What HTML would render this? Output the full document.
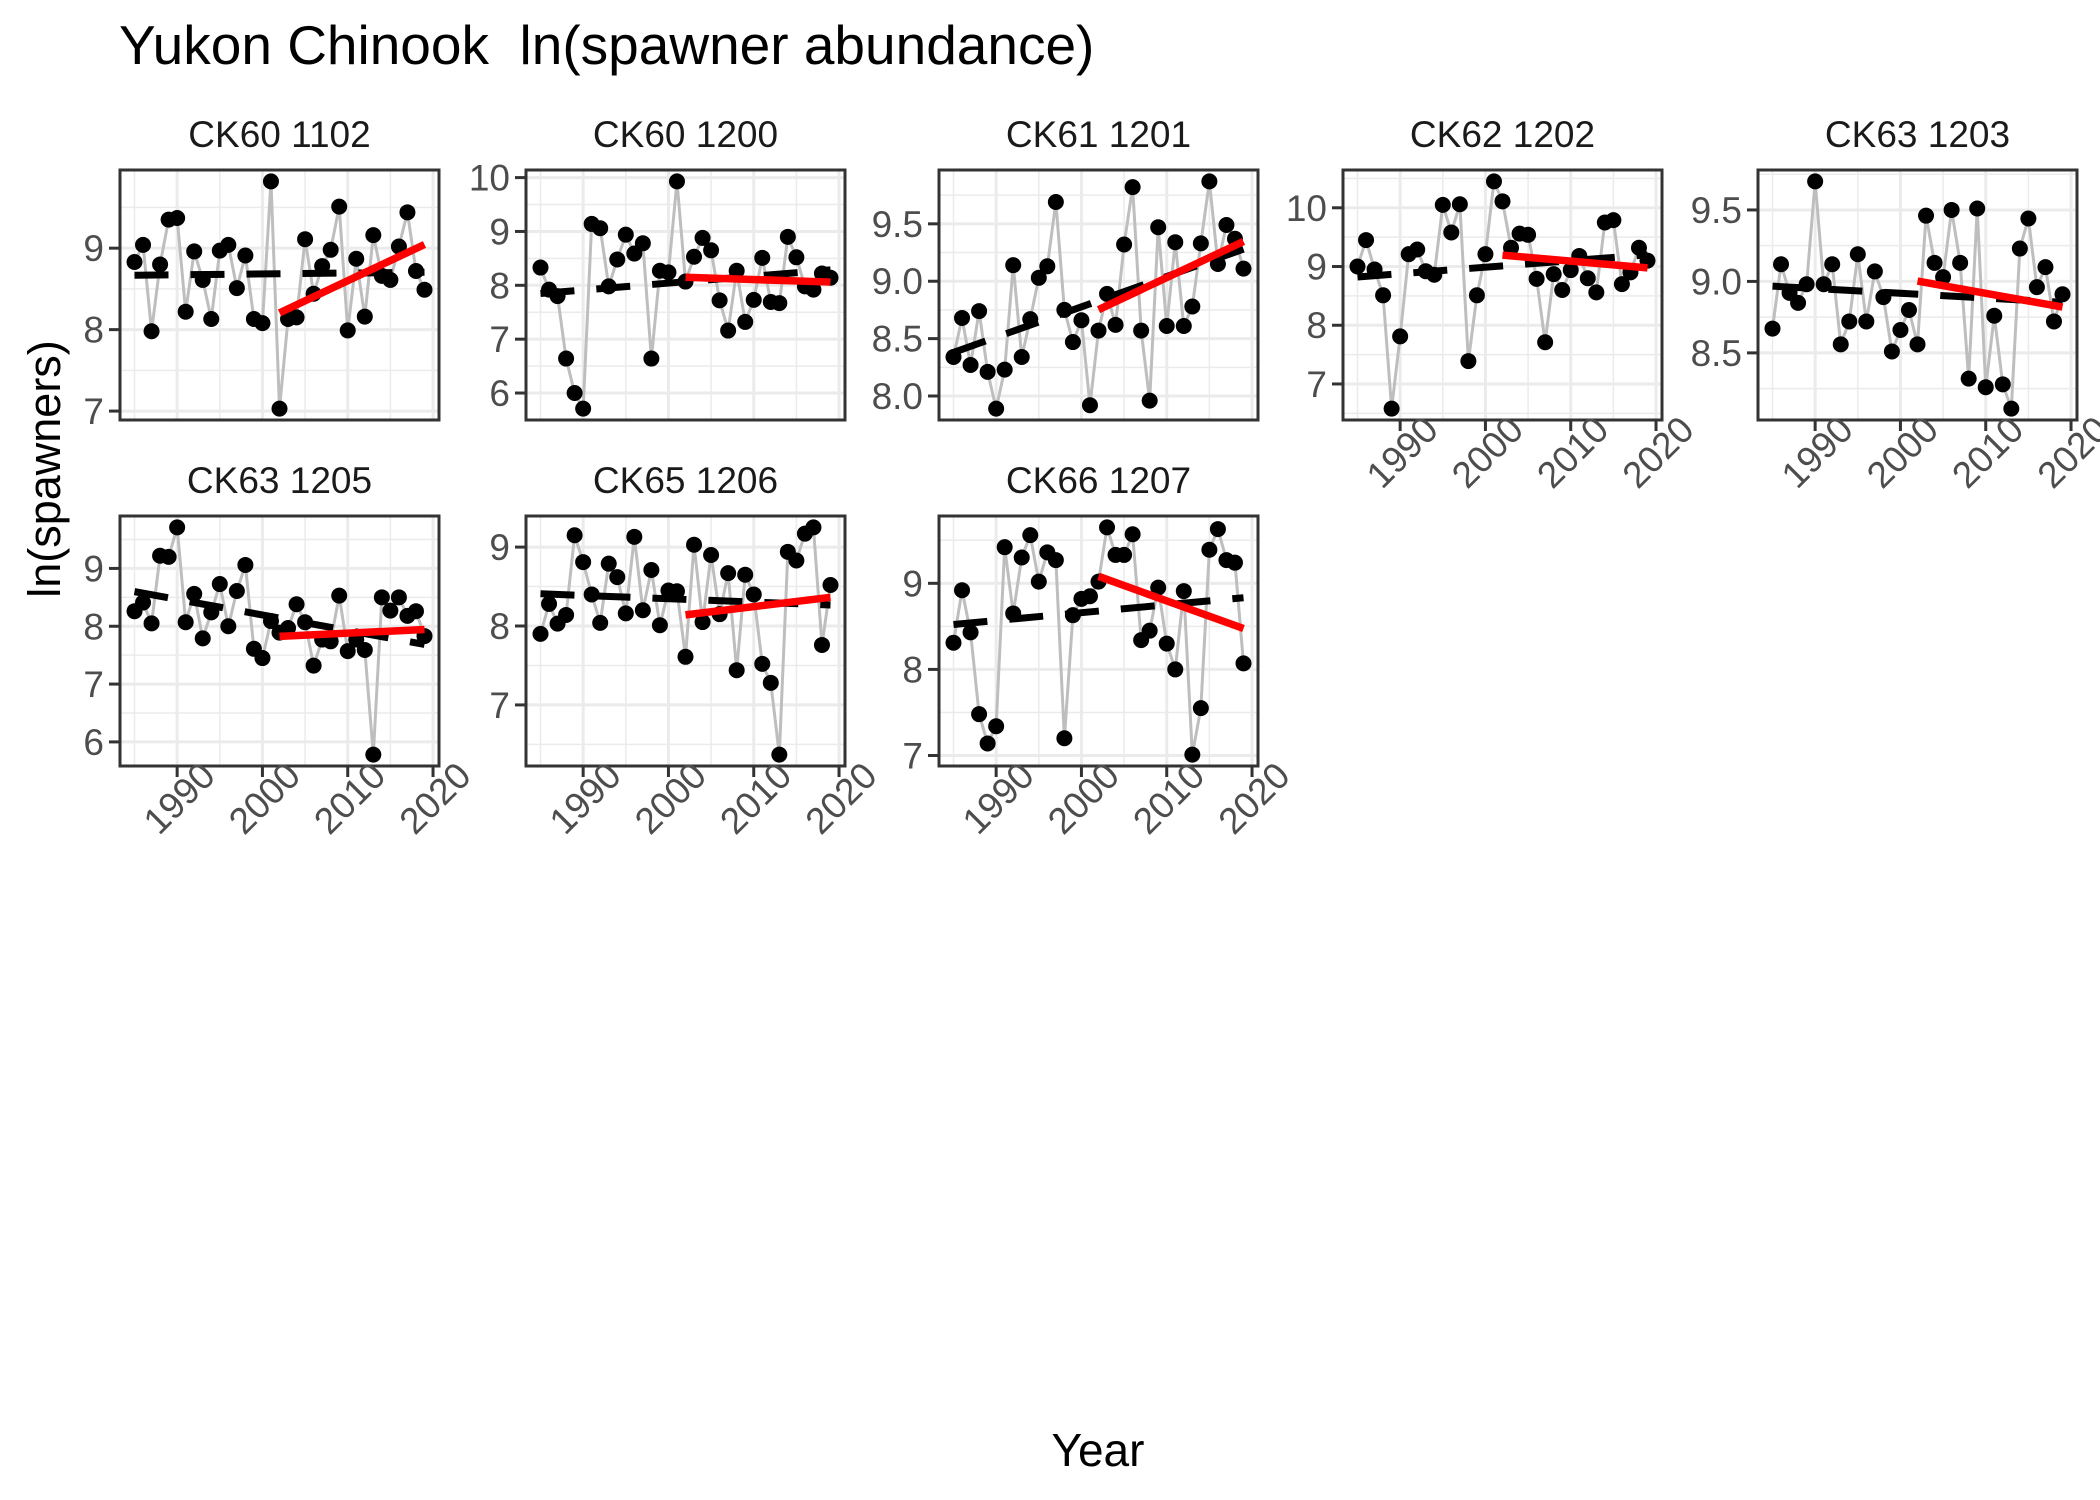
<!DOCTYPE html>
<html><head><meta charset="utf-8"><style>
html,body{margin:0;padding:0;background:#fff;}
svg{display:block;font-family:"Liberation Sans",Arial,sans-serif;}
</style></head><body>
<svg id="chart" width="2100" height="1500" viewBox="0 0 2100 1500" xmlns="http://www.w3.org/2000/svg">
<text x="119" y="64" font-size="55" fill="#000" style="white-space:pre" xml:space="preserve">Yukon Chinook  ln(spawner abundance)</text>
<text x="1098" y="1466" font-size="46" text-anchor="middle" fill="#000">Year</text>
<text transform="translate(60,469) rotate(-90)" font-size="45" text-anchor="middle" fill="#000">ln(spawners)</text>
<g id="panels"></g>
</svg>
<script>
const years = [];
for (let y = 1985; y <= 2019; y++) years.push(y);
const panelNames = ["CK60 1102","CK60 1200","CK61 1201","CK62 1202","CK63 1203","CK63 1205","CK65 1206","CK66 1207"];
const ck60_1102 = [8.83,9.04,7.98,8.80,9.35,9.37,8.22,8.96,8.61,8.13,8.97,9.04,8.51,8.91,8.13,8.08,9.82,7.03,8.13,8.15,9.11,8.44,8.78,8.98,9.51,7.99,8.87,8.16,9.16,8.66,8.61,9.02,9.44,8.72,8.49];
const ck60_1200 = [8.33,7.92,7.80,6.64,6.00,5.71,9.14,9.06,7.98,8.48,8.94,8.59,8.78,6.64,8.27,8.24,9.93,8.07,8.53,8.88,8.65,7.72,7.16,8.27,7.32,7.73,8.51,7.69,7.67,8.90,8.52,7.98,7.92,8.22,8.14];
const ck61_1201 = [8.34,8.68,8.27,8.74,8.21,7.89,8.23,9.14,8.34,8.67,9.03,9.13,9.69,8.75,8.47,8.66,7.92,8.57,8.89,8.62,9.32,9.82,8.57,7.96,9.47,8.61,9.34,8.61,8.78,9.33,9.87,9.15,9.49,9.37,9.11];
const ck62_1202 = [9.00,9.45,8.95,8.51,6.58,7.81,9.21,9.29,8.92,8.86,10.05,9.58,10.06,7.39,8.51,9.21,10.45,10.11,9.32,9.56,9.54,8.79,7.71,8.87,8.60,8.94,9.18,8.80,8.56,9.75,9.79,8.70,8.90,9.32,9.10];
const ck63_1203 = [8.67,9.12,8.92,8.85,8.98,9.70,8.98,9.12,8.56,8.72,9.19,8.72,9.07,8.89,8.51,8.66,8.80,8.56,9.46,9.13,9.03,9.50,9.13,8.32,9.51,8.26,8.76,8.28,8.11,9.23,9.44,8.96,9.10,8.72,8.91];
const ck63_1205 = [8.26,8.41,8.05,9.22,9.20,9.71,8.07,8.56,7.79,8.24,8.73,8.00,8.61,9.06,7.61,7.45,8.09,7.89,7.97,8.38,8.07,7.32,7.77,7.74,8.53,7.57,7.77,7.59,5.78,8.50,8.27,8.50,8.18,8.26,7.83];
const ck65_1206 = [7.90,8.28,8.03,8.14,9.15,8.81,8.40,8.04,8.79,8.62,8.16,9.13,8.20,8.71,8.01,8.45,8.44,7.61,9.03,8.05,8.90,8.15,8.67,7.44,8.65,8.40,7.52,7.28,6.37,8.94,8.83,9.17,9.25,7.76,8.52];
const ck66_1207 = [8.31,8.92,8.43,7.48,7.14,7.34,9.42,8.65,9.30,9.56,9.02,9.36,9.27,7.20,8.63,8.82,8.85,9.02,9.65,9.33,9.33,9.57,8.34,8.45,8.95,8.30,8.00,8.91,7.01,7.55,9.39,9.63,9.27,9.24,8.07];
const panelSeries = [ck60_1102,ck60_1200,ck61_1201,ck62_1202,ck63_1203,ck63_1205,ck65_1206,ck66_1207];
const yTickLabels = [["7","8","9"],["6","7","8","9","10"],["8.0","8.5","9.0","9.5"],["7","8","9","10"],["8.5","9.0","9.5"],["6","7","8","9"],["7","8","9"],["7","8","9"]];
const xTickLabels = ["1990","2000","2010","2020"];
const recentStart = 2002;

const NS = "http://www.w3.org/2000/svg";
const root = document.getElementById("panels");
const lefts = [120,526,939,1343,1758,120,526,939];
const tops = [170,170,170,170,170,516,516,516];
const W = 319, H = 250;
const showX = [false,false,false,true,true,true,true,true];

function mk(tag, attrs, parent){
  const e = document.createElementNS(NS, tag);
  for (const k in attrs) e.setAttribute(k, attrs[k]);
  parent.appendChild(e);
  return e;
}
function fit(xs, ys){
  const n = xs.length;
  const mx = xs.reduce((a,b)=>a+b,0)/n, my = ys.reduce((a,b)=>a+b,0)/n;
  let sxy=0,sxx=0;
  for (let i=0;i<n;i++){sxy+=(xs[i]-mx)*(ys[i]-my);sxx+=(xs[i]-mx)*(xs[i]-mx);}
  const b = sxy/sxx; return [my-b*mx, b];
}

const yMin0 = years[0], yMax0 = years[years.length-1];
const xpad = (yMax0-yMin0)*0.05;

panelSeries.forEach((vals, p) => {
  const L = lefts[p], T = tops[p];
  const g = mk("g", {}, root);
  
  
  const vmin = Math.min(...vals), vmax = Math.max(...vals);
  const ypad = (vmax - vmin) * 0.05;
  const lo = vmin - ypad, hi = vmax + ypad;
  const xs = yr => L + (yr - (yMin0 - xpad)) / ((yMax0 + xpad) - (yMin0 - xpad)) * W;
  const ys = v => T + H - (v - lo) / (hi - lo) * H;

  const strip = mk("text", {x: L + W/2, y: T - 23, "font-size": 37, "text-anchor": "middle", fill: "#1a1a1a"}, g);
  strip.textContent = panelNames[p];
  
  

  mk("rect", {x: L, y: T, width: W, height: H, fill: "#fff"}, g);
  const ticks = yTickLabels[p].map(Number);
  const step = ticks.length > 1 ? ticks[1] - ticks[0] : 1;
  for (let v = ticks[0] - step*2; v <= ticks[ticks.length-1] + step*2; v += step/2) {
    if (v < lo || v > hi) continue;
    const major = Math.abs(((v - ticks[0]) / step) - Math.round((v - ticks[0]) / step)) < 1e-6;
    mk("line", {x1: L, x2: L+W, y1: ys(v), y2: ys(v), stroke: "#ebebeb", "stroke-width": major ? 3 : 1.5}, g);
  }
  for (let yr = 1985; yr <= 2020; yr += 5) {
    const major = yr % 10 === 0;
    mk("line", {x1: xs(yr), x2: xs(yr), y1: T, y2: T+H, stroke: "#ebebeb", "stroke-width": major ? 3 : 1.5}, g);
  }
  const poly = mk("polyline", {points: vals.map((v,i)=>xs(years[i])+","+ys(v)).join(" "), fill: "none", stroke: "#bebebe", "stroke-width": 3}, g);
  
  
  const [a1,b1] = fit(years, vals);
  const dl = mk("line", {x1: xs(years[0]), y1: ys(a1+b1*years[0]), x2: xs(yMax0), y2: ys(a1+b1*yMax0), stroke: "#000", "stroke-width": 7, "stroke-dasharray": "34 22"}, g);
  
  
  vals.forEach((v,i) => {
    const c = mk("circle", {cx: xs(years[i]), cy: ys(v), r: 8, fill: "#000"}, g);
    
    
  });
  const rx = [], ry = [];
  years.forEach((yr,i)=>{ if (yr >= recentStart){ rx.push(yr); ry.push(vals[i]); } });
  const [a2,b2] = fit(rx, ry);
  const rl = mk("line", {x1: xs(recentStart), y1: ys(a2+b2*recentStart), x2: xs(yMax0), y2: ys(a2+b2*yMax0), stroke: "#ff0000", "stroke-width": 7.5}, g);
  
  
  mk("rect", {x: L, y: T, width: W, height: H, fill: "none", stroke: "#333", "stroke-width": 3}, g);
  yTickLabels[p].forEach((lab) => {
    const v = Number(lab);
    mk("line", {x1: L-11, x2: L, y1: ys(v), y2: ys(v), stroke: "#333", "stroke-width": 3}, g);
    const t = mk("text", {x: L-16, y: ys(v)+13, "font-size": 37, "text-anchor": "end", fill: "#4d4d4d"}, g);
    t.textContent = lab;
    
    
  });
  if (showX[p]) {
    xTickLabels.forEach((lab) => {
      const yr = Number(lab);
      mk("line", {x1: xs(yr), x2: xs(yr), y1: T+H, y2: T+H+11, stroke: "#333", "stroke-width": 3}, g);
      const tx = xs(yr) + 40, ty = T + H + 12;
      const t = mk("text", {x: tx, y: ty, "font-size": 37, "text-anchor": "end", fill: "#4d4d4d", transform: "rotate(-45 " + tx + " " + ty + ")"}, g);
      t.textContent = lab;
      
      
    });
  }
});
</script>
</body></html>
